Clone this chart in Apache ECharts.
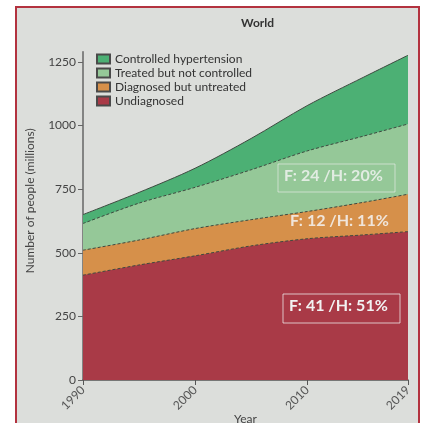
<!DOCTYPE html>
<html>
<head>
<meta charset="utf-8">
<script src="https://cdn.jsdelivr.net/npm/echarts@6/dist/echarts.min.js"></script>
<style>
  html, body { margin: 0; padding: 0; background: #fff; }
  #main { width: 423px; height: 423px; }
</style>
</head>
<body>
<div id="main"></div>
<script type="text/javascript">
  // data (millions, each layer on its own)
  var years = [1990, 1995, 2000, 2005, 2010, 2015, 2019];
  var undiagnosed = [412, 452, 488, 527, 555, 570, 583];
  var diagnosedUntreated = [98, 98, 107, 103, 107, 128, 147];
  var treatedNotControlled = [105, 145, 162, 196, 238, 260, 276];
  var controlled = [35, 42, 75, 123, 178, 231, 270];
  var yTicks = [0, 250, 500, 750, 1000, 1250];
  var xTicks = [1990, 2000, 2010, 2019];

  var names = ['Controlled hypertension', 'Treated but not controlled', 'Diagnosed but untreated', 'Undiagnosed'];
  var colors = ['#4cb074', '#95c898', '#d6904a', '#a93a47'];

  // running totals, bottom layer first
  var layers = [undiagnosed, diagnosedUntreated, treatedNotControlled, controlled];
  var tops = [];
  var run = years.map(function () { return 0; });
  layers.forEach(function (vals) {
    run = run.map(function (r, i) { return r + vals[i]; });
    tops.push(run.slice());
  });

  function pairs(vals) {
    return years.map(function (y, i) { return [y, vals[i]]; });
  }

  // areas go down to 0, so the tallest one is drawn first
  function layer(name, color, vals, dashed) {
    return {
      name: name,
      type: 'line',
      smooth: 0.3,
      symbol: 'none',
      itemStyle: { color: color, borderColor: '#4a4a4a', borderWidth: 1 },
      lineStyle: { color: '#3e4a40', width: 1, type: dashed ? [3, 2] : 'solid' },
      areaStyle: { color: color, opacity: 1 },
      data: pairs(vals)
    };
  }

  var myChart = echarts.init(document.getElementById('main'));
  var font = 'Lato';
  var option = {
    backgroundColor: '#fff',
    animation: false,
    title: {
      text: 'World',
      left: 236, top: 12,
      textStyle: { fontFamily: font, fontSize: 12, fontWeight: 'bold', color: '#333' }
    },
    legend: {
      data: names,
      orient: 'vertical',
      left: 91, top: 48,
      itemWidth: 13, itemHeight: 9, itemGap: 2,
      textStyle: { fontFamily: font, fontSize: 12, color: '#333' },
      icon: 'rect'
    },
    grid: { left: 83, right: 15, top: 51.7, bottom: 43, outerBoundsMode: 'none' },
    xAxis: {
      type: 'value',
      min: 1990, max: 2019,
      name: 'Year', nameLocation: 'middle', nameGap: 33, nameMoveOverlap: false,
      nameTextStyle: { fontFamily: font, fontSize: 12, color: '#444' },
      splitLine: { show: false },
      axisLine: { lineStyle: { color: '#555', width: 1.5 } },
      axisTick: { show: true, length: 5, customValues: xTicks, lineStyle: { color: '#555' } },
      axisLabel: {
        customValues: xTicks, rotate: 45, margin: 8,
        fontFamily: font, fontSize: 12, color: '#555',
        formatter: function (v) { return String(v); }
      }
    },
    yAxis: {
      type: 'value',
      min: 0, max: 1290,
      name: 'Number of people (millions)', nameLocation: 'middle', nameGap: 47, nameMoveOverlap: false,
      nameTextStyle: { fontFamily: font, fontSize: 12, color: '#444', padding: [0, 0, 0, 30] },
      splitLine: { show: false },
      axisLine: { show: true, lineStyle: { color: '#666', width: 1.5 } },
      axisTick: { show: true, length: 5, customValues: yTicks, lineStyle: { color: '#666' } },
      axisLabel: {
        customValues: yTicks, margin: 7,
        fontFamily: font, fontSize: 12, color: '#444',
        formatter: function (v) { return String(v); }
      }
    },
    graphic: [
      {
        type: 'rect', z: -10, silent: true,
        shape: { x: 16, y: 7, width: 403, height: 430 },
        style: { fill: '#dcdedb', stroke: '#b3323f', lineWidth: 2 }
      },
      {
        type: 'rect', z: 100,
        shape: { x: 278, y: 164, width: 117, height: 28 },
        style: { fill: 'none', stroke: 'rgba(240,240,240,0.6)', lineWidth: 1 }
      },
      {
        type: 'text', z: 100, left: 284, top: 168,
        style: { text: 'F: 24 /H: 20%', fill: 'rgba(245,245,245,0.8)', font: 'bold 16px Lato' }
      },
      {
        type: 'text', z: 100, left: 290, top: 213,
        style: { text: 'F: 12 /H: 11%', fill: 'rgba(245,245,245,0.85)', font: 'bold 16px Lato' }
      },
      {
        type: 'rect', z: 100,
        shape: { x: 283, y: 294, width: 117, height: 29 },
        style: { fill: 'none', stroke: 'rgba(240,240,240,0.75)', lineWidth: 1 }
      },
      {
        type: 'text', z: 100, left: 289, top: 298,
        style: { text: 'F: 41 /H: 51%', fill: '#f2f2f2', font: 'bold 16px Lato' }
      }
    ],
    series: [
      layer(names[0], colors[0], tops[3], false),
      layer(names[1], colors[1], tops[2], true),
      layer(names[2], colors[2], tops[1], true),
      layer(names[3], colors[3], tops[0], true)
    ]
  };
  myChart.setOption(option);
</script>
</body>
</html>
